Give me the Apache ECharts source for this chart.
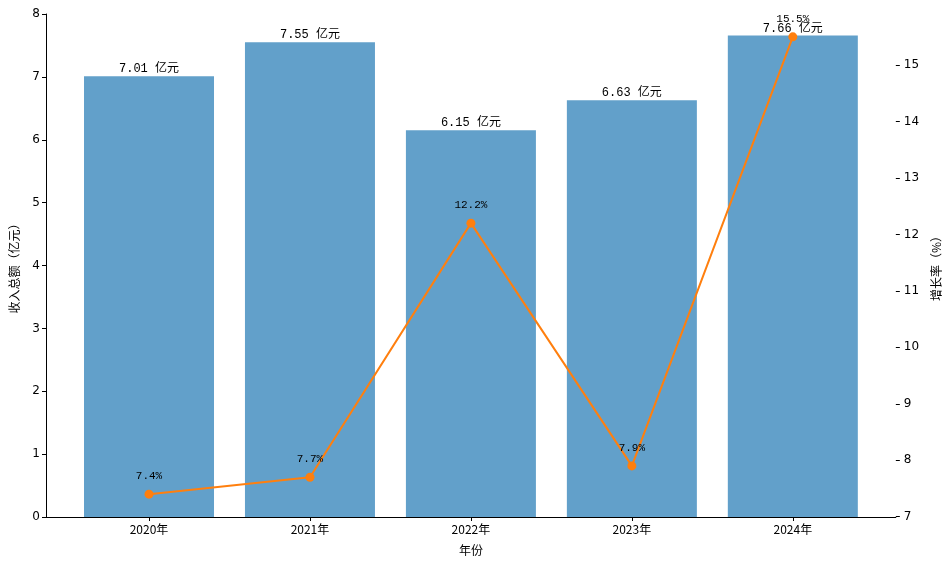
<!DOCTYPE html>
<html><head><meta charset="utf-8">
<script src="https://cdn.jsdelivr.net/npm/echarts@6/dist/echarts.min.js"></script>
<style>html,body{margin:0;padding:0;background:#fff}#c{width:950px;height:566px}</style>
</head><body><div id="c"></div>
<script>
const categories = ['2020年','2021年','2022年','2023年','2024年'];
const revenue = [7.01, 7.55, 6.15, 6.63, 7.66];
const growth = [7.4, 7.7, 12.2, 7.9, 15.5];
const leftTicks = [0,1,2,3,4,5,6,7,8];
const rightTicks = [7,8,9,10,11,12,13,14,15];

const tickFont = 'DejaVu Sans, Liberation Sans, sans-serif';
const cjk = '"Noto Sans CJK SC", sans-serif';
const mono = '"Liberation Mono", "Noto Sans CJK SC", monospace';
const chart = echarts.init(document.getElementById('c'));
chart.setOption({
  animation: false,
  grid: {left: 44, right: 50, top: 14, bottom: 49},
  xAxis: {
    type: 'value', min: -0.64, max: 4.64,
    splitLine: {show: false},
    axisLine: {show: true, onZero: false, lineStyle: {color: '#000', width: 1}},
    axisTick: {show: true, length: 4, lineStyle: {color: '#000'}, customValues: [0,1,2,3,4]},
    axisLabel: {color: '#000', fontSize: 12, fontFamily: cjk, margin: 6, customValues: [0,1,2,3,4],
      formatter: v => categories[Math.round(v)] || ''},
    name: '年份', nameLocation: 'middle', nameGap: 27,
    nameTextStyle: {color: '#000', fontSize: 12, fontFamily: cjk}
  },
  yAxis: [{
    type: 'value', min: 0, max: 8, interval: 1,
    splitLine: {show: false},
    axisLine: {show: true, onZero: false, lineStyle: {color: '#000'}},
    axisTick: {show: true, length: 4, lineStyle: {color: '#000'}, customValues: leftTicks},
    axisLabel: {color: '#000', fontSize: 12, fontFamily: tickFont, margin: 6, customValues: leftTicks},
    name: '收入总额（亿元）', nameLocation: 'middle', nameGap: 26, nameRotate: 90,
    nameTextStyle: {color: '#000', fontSize: 12, fontFamily: cjk}
  }, {
    type: 'value', min: 6.995, max: 15.905,
    splitLine: {show: false},
    axisLine: {show: false, onZero: false},
    axisTick: {show: true, length: 4, lineStyle: {color: '#000'}, customValues: rightTicks},
    axisLabel: {color: '#000', fontSize: 12, fontFamily: tickFont, margin: 8, customValues: rightTicks},
    name: '增长率（%）', nameLocation: 'middle', nameGap: 23, nameRotate: 90,
    nameTextStyle: {color: '#000', fontSize: 12, fontFamily: cjk}
  }],
  series: [{
    type: 'bar', yAxisIndex: 0, barWidth: 130,
    data: revenue.map((v, i) => [i, v]),
    itemStyle: {color: '#62a0ca'},
    label: {show: true, position: 'top', distance: 1, color: '#000', fontSize: 12, fontFamily: mono,
      formatter: p => p.value[1].toFixed(2) + ' 亿元'}
  }, {
    type: 'line', yAxisIndex: 1,
    data: growth.map((v, i) => [i, v]),
    lineStyle: {color: '#ff7f0e', width: 2},
    itemStyle: {color: '#ff7f0e'},
    symbol: 'circle', symbolSize: 9,
    label: {show: true, position: 'top', distance: 8, color: '#000', fontSize: 11, fontFamily: mono,
      formatter: p => p.value[1].toFixed(1) + '%'},
    z: 5
  }]
});
</script></body></html>
